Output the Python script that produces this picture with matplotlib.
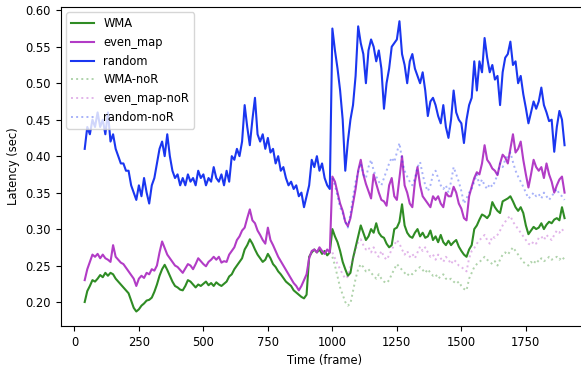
import numpy as np
import matplotlib
matplotlib.use("Agg")
import matplotlib.pyplot as plt

# frame axis (one sample every 10 frames)
frames = np.arange(40, 1901, 10)
frames_nor = np.arange(1000, 1901, 10)

wma = [
    0.20, 0.215, 0.222, 0.23, 0.228, 0.232, 0.237, 0.234, 0.24, 0.236,
    0.24, 0.238, 0.232, 0.228, 0.224, 0.22, 0.216, 0.212, 0.202, 0.192,
    0.187, 0.19, 0.195, 0.198, 0.202, 0.203, 0.206, 0.214, 0.224, 0.236,
    0.245, 0.251, 0.244, 0.236, 0.228, 0.222, 0.22, 0.217, 0.216, 0.222,
    0.23, 0.228, 0.224, 0.22, 0.224, 0.222,
    0.225, 0.228, 0.223, 0.226, 0.222, 0.227, 0.224, 0.222, 0.225, 0.228,
    0.235, 0.238, 0.245, 0.25, 0.255, 0.26, 0.272, 0.278, 0.286, 0.28,
    0.272, 0.265, 0.26, 0.255, 0.258, 0.266, 0.26, 0.252, 0.248, 0.242,
    0.238, 0.233, 0.228, 0.225, 0.222, 0.216, 0.213, 0.21, 0.207, 0.205,
    0.21, 0.262, 0.268, 0.272, 0.268, 0.272, 0.266, 0.27, 0.264, 0.268,
    0.30, 0.29, 0.282, 0.27, 0.255, 0.245, 0.236, 0.24, 0.26, 0.275,
    0.29, 0.305, 0.295, 0.285, 0.29, 0.3, 0.295, 0.308, 0.295, 0.29,
    0.288, 0.28, 0.275, 0.278, 0.3, 0.302, 0.31, 0.334, 0.305, 0.295,
    0.29, 0.288, 0.295, 0.3, 0.29, 0.295, 0.288, 0.29, 0.298, 0.285,
    0.29, 0.282, 0.292, 0.282, 0.278, 0.284,
    0.278, 0.282, 0.285, 0.276, 0.27, 0.265, 0.262, 0.272, 0.278, 0.3,
    0.305, 0.313, 0.32, 0.318, 0.315, 0.32, 0.337, 0.33, 0.325, 0.322,
    0.338, 0.34, 0.342, 0.345, 0.338, 0.33, 0.325, 0.33, 0.322, 0.305,
    0.293, 0.298, 0.303, 0.3, 0.302, 0.308, 0.3, 0.306, 0.31, 0.308,
    0.313, 0.315, 0.312, 0.33, 0.315,
]

even_map = [
    0.23, 0.245, 0.255, 0.265, 0.262, 0.266, 0.26, 0.265, 0.26, 0.258,
    0.255, 0.278, 0.262, 0.258, 0.254, 0.252, 0.247, 0.242, 0.237, 0.232,
    0.222, 0.232, 0.236, 0.233, 0.24, 0.238, 0.245, 0.243, 0.25, 0.268,
    0.283, 0.274, 0.265, 0.26, 0.255, 0.25, 0.248, 0.244, 0.24, 0.246,
    0.252, 0.25, 0.245, 0.252, 0.26, 0.256,
    0.252, 0.249, 0.255, 0.258, 0.262, 0.258, 0.262, 0.254, 0.256, 0.255,
    0.265, 0.27, 0.275, 0.285, 0.29, 0.298, 0.302, 0.315, 0.327, 0.312,
    0.308, 0.298, 0.292, 0.285, 0.28, 0.302, 0.285, 0.278, 0.27, 0.262,
    0.256, 0.25, 0.244, 0.238, 0.232, 0.226, 0.222, 0.216, 0.222, 0.23,
    0.238, 0.26, 0.27, 0.272, 0.268, 0.275, 0.27, 0.266, 0.272, 0.268,
    0.372, 0.365, 0.35, 0.335, 0.325, 0.31, 0.304, 0.315, 0.335, 0.355,
    0.38, 0.395, 0.375, 0.362, 0.352, 0.342, 0.375, 0.362, 0.35, 0.34,
    0.338, 0.332, 0.36, 0.37, 0.345, 0.34, 0.37, 0.40, 0.36, 0.35,
    0.335, 0.33, 0.365, 0.385, 0.36, 0.345, 0.34, 0.335, 0.33, 0.345,
    0.34, 0.345, 0.335, 0.33, 0.35, 0.345,
    0.345, 0.358, 0.35, 0.335, 0.328, 0.315, 0.312, 0.345, 0.358, 0.37,
    0.378, 0.375, 0.39, 0.415, 0.395, 0.39, 0.383, 0.38, 0.374, 0.39,
    0.402, 0.398, 0.39, 0.41, 0.43, 0.405, 0.41, 0.42, 0.395, 0.375,
    0.357, 0.375, 0.395, 0.385, 0.38, 0.385, 0.37, 0.39, 0.375, 0.365,
    0.35, 0.36, 0.368, 0.372, 0.35,
]

random_map = [
    0.41, 0.44, 0.43, 0.45, 0.44, 0.46, 0.44, 0.45, 0.43, 0.46,
    0.42, 0.43, 0.41, 0.40, 0.39, 0.39, 0.38, 0.38, 0.36, 0.35,
    0.34, 0.36, 0.345, 0.37, 0.35, 0.335, 0.36, 0.37, 0.39, 0.41,
    0.42, 0.40, 0.43, 0.40, 0.38, 0.37, 0.375, 0.36, 0.37, 0.36,
    0.375, 0.365, 0.37, 0.36, 0.38,
    0.37, 0.375, 0.36, 0.37, 0.365, 0.385, 0.37, 0.365, 0.375, 0.36,
    0.38, 0.365, 0.40, 0.395, 0.41, 0.40, 0.42, 0.47, 0.44, 0.415,
    0.45, 0.48, 0.43, 0.42, 0.43, 0.41, 0.425, 0.405, 0.41, 0.39,
    0.40, 0.38, 0.385, 0.37, 0.36, 0.365, 0.355, 0.36, 0.345, 0.35,
    0.33, 0.345, 0.36, 0.395, 0.385, 0.40, 0.38, 0.39, 0.37, 0.36,
    0.355,
    0.575, 0.545, 0.52, 0.49, 0.45, 0.38, 0.42, 0.45, 0.47, 0.51,
    0.578, 0.555, 0.54, 0.50, 0.545, 0.56, 0.55, 0.53, 0.545, 0.52,
    0.465, 0.50, 0.52, 0.55, 0.555, 0.56, 0.585, 0.54, 0.525, 0.50,
    0.53, 0.54, 0.52, 0.51, 0.50, 0.515, 0.49, 0.455, 0.475, 0.48,
    0.47, 0.455, 0.445, 0.47, 0.44, 0.425, 0.45,
    0.49, 0.46, 0.45, 0.445, 0.418, 0.45, 0.47, 0.48, 0.53, 0.49,
    0.53, 0.515, 0.562, 0.535, 0.515, 0.525, 0.505, 0.51, 0.47, 0.515,
    0.535, 0.54, 0.557, 0.525, 0.53, 0.50, 0.51, 0.485, 0.466, 0.445,
    0.46, 0.475, 0.465, 0.475, 0.494, 0.47, 0.46, 0.448, 0.45, 0.406,
    0.44, 0.462, 0.45, 0.415,
]

wma_nor = [
    0.262, 0.25, 0.235, 0.22, 0.21, 0.2, 0.195, 0.198, 0.215, 0.232,
    0.245, 0.252, 0.248, 0.242, 0.245, 0.24, 0.236, 0.232, 0.238, 0.232,
    0.228, 0.226, 0.23, 0.238, 0.245, 0.252, 0.248, 0.244, 0.24, 0.236,
    0.24, 0.238, 0.242, 0.245, 0.248, 0.244, 0.24, 0.245, 0.24, 0.236,
    0.238, 0.232, 0.235, 0.238, 0.232, 0.23, 0.232, 0.228, 0.225, 0.228,
    0.222, 0.218, 0.216, 0.232, 0.24, 0.248, 0.252, 0.255, 0.258, 0.262,
    0.258, 0.255, 0.252, 0.256, 0.25, 0.258, 0.265, 0.268, 0.265, 0.27,
    0.275, 0.27, 0.265, 0.26, 0.255, 0.252, 0.25, 0.255, 0.252, 0.258,
    0.255, 0.26, 0.256, 0.258, 0.262, 0.258, 0.26, 0.262, 0.258, 0.262,
    0.258,
]

even_map_nor = [
    0.268, 0.26, 0.252, 0.245, 0.238, 0.232, 0.235, 0.248, 0.26, 0.272,
    0.282, 0.286, 0.278, 0.272, 0.275, 0.268, 0.275, 0.265, 0.262, 0.27,
    0.262, 0.258, 0.264, 0.272, 0.278, 0.285, 0.28, 0.272, 0.265, 0.27,
    0.262, 0.266, 0.26, 0.268, 0.276, 0.27, 0.275, 0.268, 0.262, 0.265,
    0.258, 0.265, 0.26, 0.255, 0.262, 0.258, 0.252, 0.258, 0.255, 0.25,
    0.248, 0.245, 0.242, 0.26, 0.27, 0.274, 0.28, 0.285, 0.288, 0.292,
    0.285, 0.28, 0.29, 0.288, 0.292, 0.298, 0.305, 0.31, 0.315, 0.318,
    0.31, 0.305, 0.3, 0.295, 0.29, 0.285, 0.28, 0.278, 0.283, 0.28,
    0.288, 0.29, 0.285, 0.292, 0.288, 0.285, 0.292, 0.298, 0.295, 0.3,
    0.295,
]

random_nor = [
    0.37, 0.36, 0.345, 0.33, 0.322, 0.31, 0.302, 0.32, 0.345, 0.365,
    0.378, 0.39, 0.375, 0.37, 0.385, 0.395, 0.38, 0.372, 0.365, 0.36,
    0.37, 0.38, 0.39, 0.398, 0.392, 0.405, 0.418, 0.395, 0.38, 0.372,
    0.365, 0.36, 0.37, 0.385, 0.392, 0.375, 0.36, 0.352, 0.36, 0.375,
    0.38, 0.37, 0.36, 0.355, 0.36, 0.35, 0.365, 0.385, 0.375, 0.365,
    0.352, 0.335, 0.342, 0.35, 0.355, 0.365, 0.375, 0.36, 0.368, 0.36,
    0.355, 0.362, 0.358, 0.365, 0.375, 0.39, 0.385, 0.395, 0.4, 0.405,
    0.392, 0.38, 0.372, 0.365, 0.358, 0.35, 0.342, 0.345, 0.35, 0.345,
    0.348, 0.342, 0.35, 0.345, 0.34, 0.345, 0.35, 0.355, 0.348, 0.345,
    0.34,
]

c_wma = "#2f8c24"
c_even = "#b23cc6"
c_rand = "#1a36f0"

plt.rcParams["font.size"] = 8.3

fig = plt.figure(figsize=(5.81, 3.67), dpi=100)
ax = fig.add_axes([0.1045, 0.1117, 0.9085, 0.870])

ax.plot(frames, wma, color=c_wma, lw=1.5, label="WMA")
ax.plot(frames, even_map, color=c_even, lw=1.5, label="even_map")
ax.plot(frames, random_map, color=c_rand, lw=1.5, label="random")
ax.plot(frames_nor, wma_nor, color=c_wma, lw=1.4, ls=":", alpha=0.38, label="WMA-noR")
ax.plot(frames_nor, even_map_nor, color=c_even, lw=1.4, ls=":", alpha=0.38, label="even_map-noR")
ax.plot(frames_nor, random_nor, color=c_rand, lw=1.4, ls=":", alpha=0.38, label="random-noR")

# the original figure is cut off on the right, no right border visible
ax.spines["right"].set_visible(False)

ax.set_xlabel("Time (frame)")
ax.set_ylabel("Latency (sec)")
ax.set_xticks([0, 250, 500, 750, 1000, 1250, 1500, 1750])
ax.set_yticks([0.20, 0.25, 0.30, 0.35, 0.40, 0.45, 0.50, 0.55, 0.60])
ax.legend(loc="upper left")

fig.savefig("out.png", dpi=100)
